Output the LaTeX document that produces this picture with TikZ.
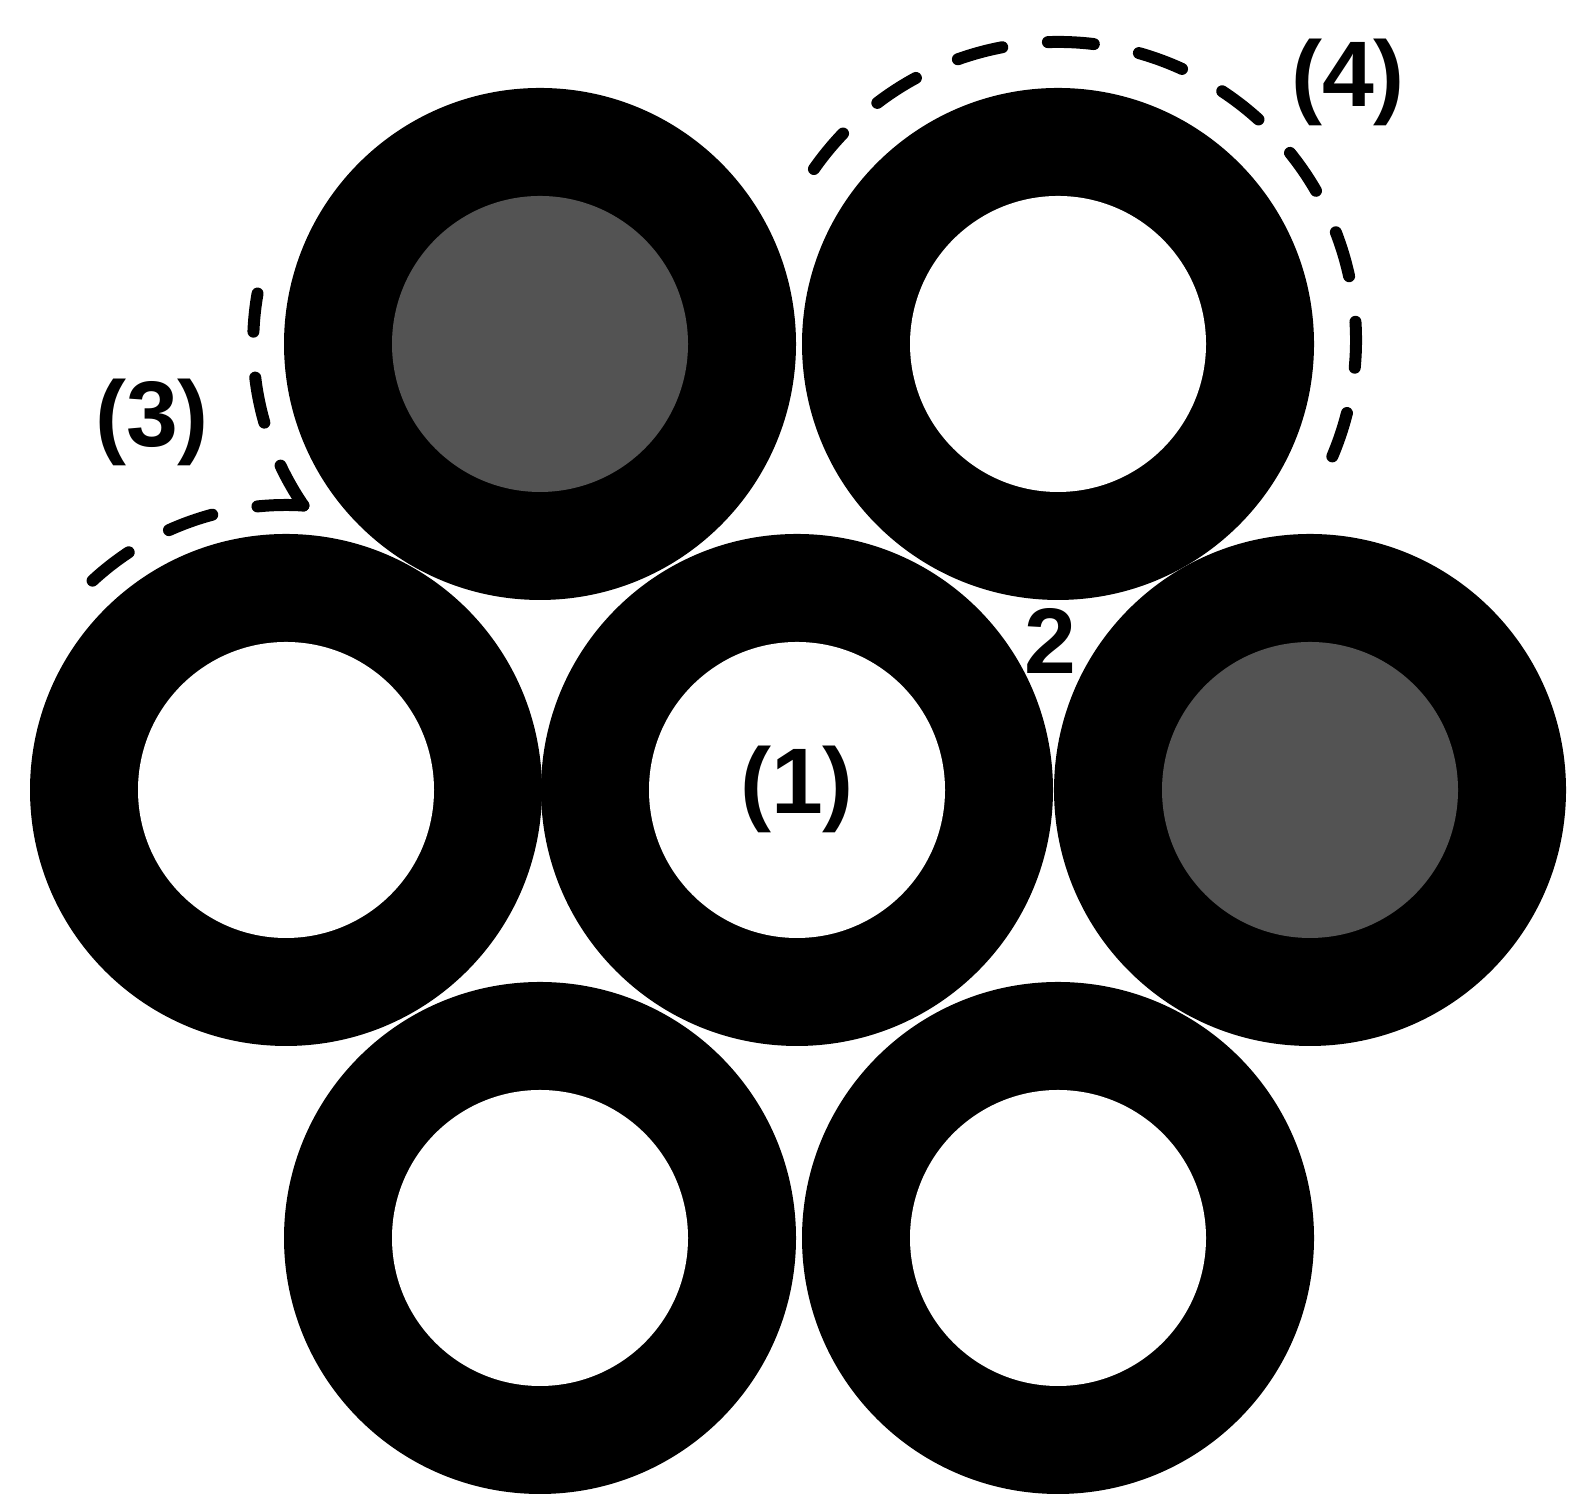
\documentclass[tikz,border=0pt]{standalone}
\usepackage{fontspec}
\setmainfont{Liberation Sans}
\usetikzlibrary{calc}
\definecolor{coregray}{RGB}{83,83,83}
\begin{document}
\begin{tikzpicture}[
		ring/.style={fill=black},
		tag/.style={font=\fontsize{26.5}{30}\selectfont\bfseries, inner sep=0pt},
		outline/.style={line width=0.12cm, dash pattern=on 0.46cm off 0.46cm, line cap=round}
	]
		\useasboundingbox (0, 0) rectangle (15.88, 15.11);

		% ring centres
		\coordinate (tl) at (5.40, 11.67);
		\coordinate (tr) at (10.58, 11.67);
		\coordinate (ml) at (2.86, 7.21);
		\coordinate (cc) at (7.97, 7.21);
		\coordinate (mr) at (13.10, 7.21);
		\coordinate (bl) at (5.40, 2.73);
		\coordinate (br) at (10.58, 2.73);

		\foreach \c in {tl, tr, ml, cc, mr, bl, br}
			\fill[ring] (\c) circle (2.56);
		\foreach \c in {tr, ml, cc, bl, br}
			\fill[white] (\c) circle (1.48);
		\foreach \c in {tl, mr}
			\fill[coregray] (\c) circle (1.48);

		% dashed outlines
		\coordinate (tip) at ($(ml) + (86.5:2.85)$);
		\draw[outline] (tip) arc[start angle=86.5, end angle=133, radius=2.85];
		\draw[outline] (tip) arc[start angle=214.4, end angle=170, radius=2.87];
		\draw[outline] ($(tr) + (0, 0.04) + (145:2.98)$) arc[start angle=145, end angle=-23, radius=2.98];

		\node[tag] (one) at (7.97, 7.22) {(1)};
		\node[tag] (two) at (10.50, 8.70) {2};
		\node[tag] (three) at (1.52, 10.89) {(3)};
		\node[tag] (four) at (13.48, 14.29) {(4)};
	\end{tikzpicture}
\end{document}
